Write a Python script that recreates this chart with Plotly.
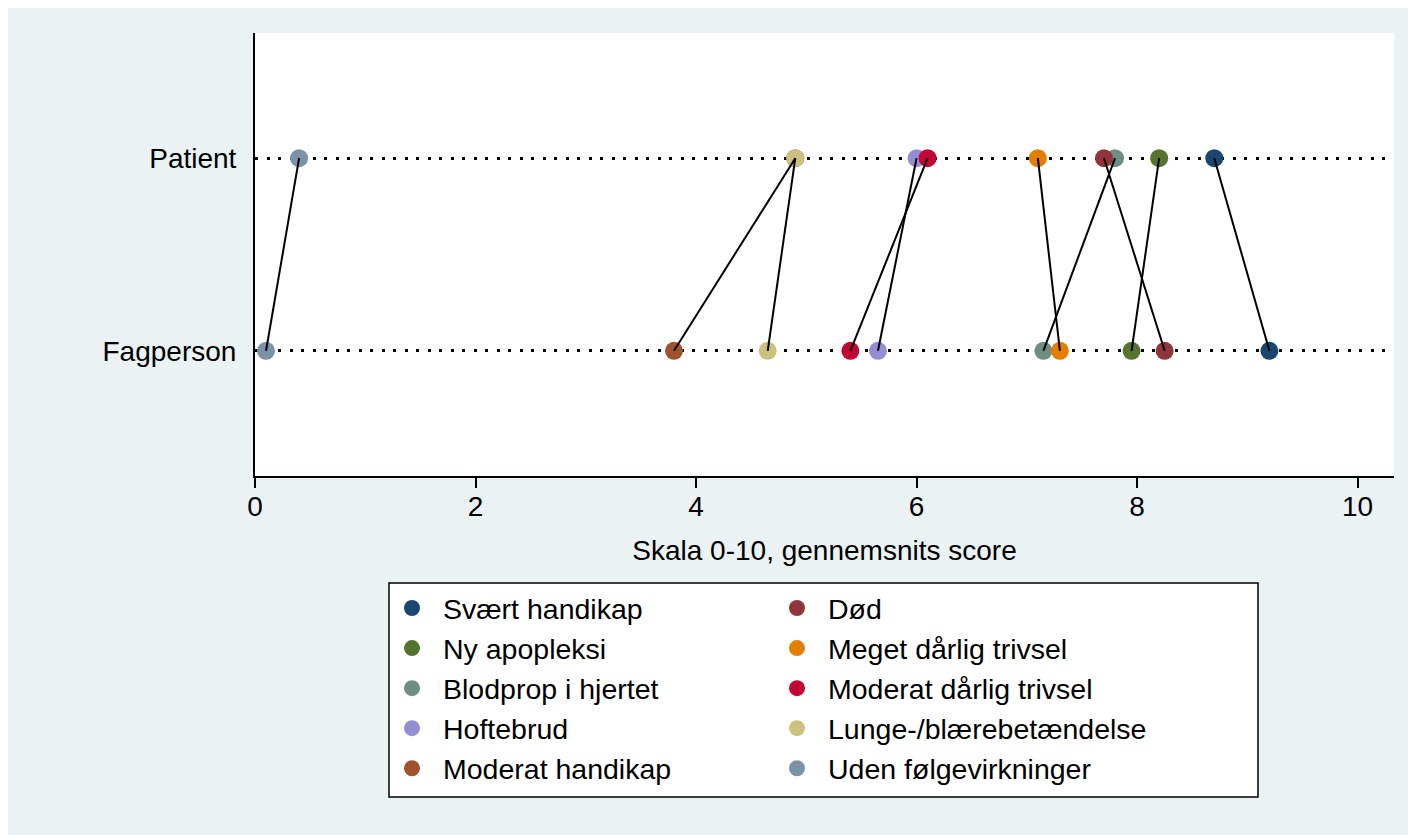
import plotly.graph_objects as go

# ---- data ----
categories = ["Svært handikap", "Ny apopleksi", "Blodprop i hjertet", "Hoftebrud",
              "Moderat handikap", "Død", "Meget dårlig trivsel", "Moderat dårlig trivsel",
              "Lunge-/blærebetændelse", "Uden følgevirkninger"]
patient = [8.7, 8.2, 7.8, 6.0, 4.9, 7.7, 7.1, 6.1, 4.9, 0.4]
fagperson = [9.2, 7.95, 7.15, 5.65, 3.8, 8.25, 7.3, 5.4, 4.65, 0.1]
groups = ["Fagperson", "Patient"]
group_pos = [1, 2]
x_ticks = [0, 2, 4, 6, 8, 10]
x_title = "Skala 0-10, gennemsnits score"

colors = ["#1a476f", "#55752f", "#6e8e84", "#938dd2", "#a0522d",
          "#90353b", "#e37e00", "#c10534", "#cac27e", "#7b92a8"]

FONT = "Liberation Sans, Arial, sans-serif"
BG = "#EAF2F3"

fig = go.Figure()

n = len(categories)
for i, cat in enumerate(categories):
    col, row = divmod(i, 5)
    fig.add_trace(go.Scatter(
        x=[fagperson[i], patient[i]], y=[group_pos[0], group_pos[1]],
        mode="markers", name=cat,
        marker=dict(color=colors[i], size=18, line=dict(width=0)),
        legendrank=row * 2 + col + 1,
        hoverinfo="x+name",
    ))

# connecting lines (drawn above markers, as in the reference)
lx, ly = [], []
for i in range(n):
    lx += [patient[i], fagperson[i], None]
    ly += [group_pos[1], group_pos[0], None]
fig.add_trace(go.Scatter(x=lx, y=ly, mode="lines", showlegend=False,
                         line=dict(color="black", width=2), hoverinfo="skip"))

W, H = 1416, 835
L, R, T, B = 247, 30, 25, 367
pw, ph = W - L - R, H - T - B


def px_x(p):
    return (p - L) / pw


def px_y(p):
    return (H - B - p) / ph


shapes = [
    # legend box
    dict(type="rect", xref="paper", yref="paper", x0=px_x(381), x1=px_x(1250),
         y0=px_y(789), y1=px_y(575), fillcolor="white",
         line=dict(color="black", width=1.5), layer="below"),
]

fig.update_layout(
    width=W, height=H,
    margin=dict(l=L, r=R, t=T, b=B),
    paper_bgcolor=BG, plot_bgcolor="white",
    font=dict(family=FONT, size=28, color="black"),
    shapes=shapes,
    showlegend=True,
    legend=dict(
        orientation="h", x=px_x(373), y=px_y(575), xanchor="left", yanchor="top",
        entrywidth=318, itemwidth=52, bgcolor="rgba(0,0,0,0)", borderwidth=0,
        font=dict(family=FONT, size=28.5, color="black"),
        itemclick=False, itemdoubleclick=False,
    ),
    xaxis=dict(
        range=[0, 10.33], tickvals=x_ticks, ticks="outside", ticklen=10,
        tickwidth=2, tickcolor="black", showline=True, linecolor="black", linewidth=2,
        showgrid=False, zeroline=False, ticklabelstandoff=-6,
        title=dict(text=x_title, standoff=20, font=dict(size=28)),
    ),
    yaxis=dict(
        range=[0.35, 2.65], tickvals=group_pos, ticktext=groups, ticks="",
        showline=True, linecolor="black", linewidth=2, zeroline=False,
        showgrid=True, gridcolor="black", gridwidth=3, griddash="3px,8.5px",
        ticklabelstandoff=11,
    ),
)

fig.write_html("out.html")
